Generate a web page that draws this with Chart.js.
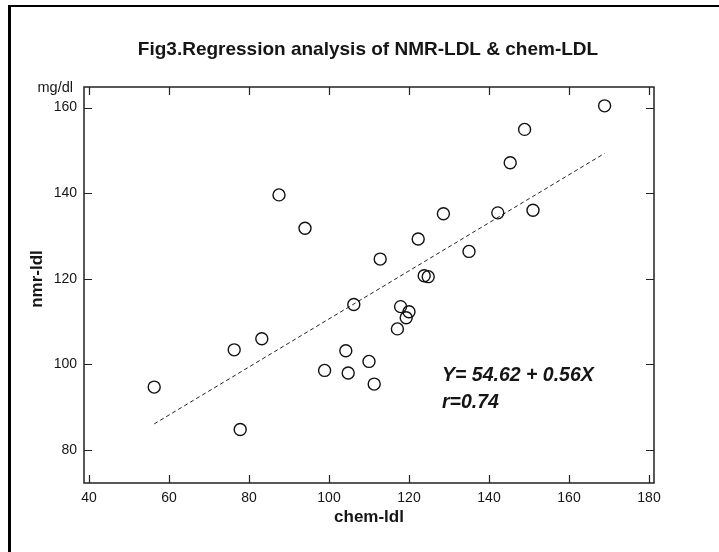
<!DOCTYPE html>
<html>
<head>
<meta charset="utf-8">
<script src="https://cdn.jsdelivr.net/npm/chart.js@4/dist/chart.umd.min.js"></script>
<style>
  html, body { margin: 0; padding: 0; background: #fff; }
  #wrap { position: relative; width: 719px; height: 552px; }
</style>
</head>
<body>
<div id="wrap"><canvas id="c" width="719" height="552"></canvas></div>
<script>
// ---- data ----
const chemLdl = [56.3, 76.3, 77.8, 83.2, 87.5, 94.0, 98.9, 104.2, 104.8, 106.2, 110.0, 111.3, 112.8, 117.1,
                 117.9, 119.3, 120.0, 122.3, 123.8, 124.8, 128.6, 135.0, 142.2, 145.3, 148.9, 151.0, 168.9];
const nmrLdl  = [94.7, 103.4, 84.8, 106.0, 139.6, 131.8, 98.6, 103.2, 98.0, 114.0, 100.7, 95.4, 124.6, 108.3,
                 113.5, 110.9, 112.3, 129.3, 120.7, 120.5, 135.2, 126.4, 135.4, 147.1, 154.9, 136.0, 160.4];
const fitX = [56.3, 168.9];
const fitY = [86.1, 149.3];
const xTicks = [40, 60, 80, 100, 120, 140, 160, 180];
const yTicks = [80, 100, 120, 140, 160];
const titleText = 'Fig3.Regression analysis of NMR-LDL & chem-LDL';
const xTitle = 'chem-ldl';
const yTitle = 'nmr-ldl';
const unitLabel = 'mg/dl';
const eqLines = ['Y= 54.62 + 0.56X', 'r=0.74'];

const FONT = '"Liberation Sans", Arial, sans-serif';
const INK = '#151515';

const framePlugin = {
  id: 'frame',
  beforeDraw(chart) {
    const ctx = chart.ctx;
    ctx.save();
    ctx.fillStyle = '#fff';
    ctx.fillRect(0, 0, chart.width, chart.height);
    ctx.fillStyle = '#000';
    ctx.fillRect(8, 6, 3, chart.height - 6);   // left frame line
    ctx.fillRect(8, 5, chart.width - 8, 2);     // top frame line
    ctx.restore();
  },
  afterDraw(chart) {
    const ctx = chart.ctx;
    const a = chart.chartArea;
    const xs = chart.scales.x, ys = chart.scales.y;
    ctx.save();
    ctx.strokeStyle = '#222';
    ctx.lineWidth = 1.5;
    ctx.strokeRect(a.left, a.top, a.right - a.left, a.bottom - a.top);
    ctx.lineWidth = 1.2;
    const tl = 8;
    ctx.beginPath();
    xTicks.forEach(v => {
      const p = Math.round(xs.getPixelForValue(v)) + 0.5;
      ctx.moveTo(p, a.bottom); ctx.lineTo(p, a.bottom - tl);
      ctx.moveTo(p, a.top); ctx.lineTo(p, a.top + tl);
    });
    yTicks.forEach(v => {
      const p = Math.round(ys.getPixelForValue(v)) + 0.5;
      ctx.moveTo(a.left, p); ctx.lineTo(a.left + tl, p);
      ctx.moveTo(a.right, p); ctx.lineTo(a.right - tl, p);
    });
    ctx.stroke();
    ctx.fillStyle = INK;
    // chart title (centred over the figure as in the reference)
    ctx.font = 'bold 19px ' + FONT;
    ctx.textAlign = 'center';
    ctx.textBaseline = 'middle';
    ctx.fillText(titleText, 368, 50);
    // unit label
    ctx.font = '14.5px ' + FONT;
    ctx.textAlign = 'right';
    ctx.textBaseline = 'middle';
    ctx.fillText(unitLabel, a.left - 11, a.top + 1);
    // y axis title
    ctx.save();
    ctx.translate(37, 279);
    ctx.rotate(-Math.PI / 2);
    ctx.font = 'bold 17px ' + FONT;
    ctx.textAlign = 'center';
    ctx.textBaseline = 'middle';
    ctx.fillText(yTitle, 0, 0);
    ctx.restore();
    // regression equation
    ctx.font = 'italic bold 19.5px ' + FONT;
    ctx.textAlign = 'left';
    ctx.textBaseline = 'alphabetic';
    ctx.fillText(eqLines[0], a.left + 358, 381);
    ctx.fillText(eqLines[1], a.left + 358, 408);
    ctx.restore();
  }
};

new Chart(document.getElementById('c'), {
  type: 'scatter',
  data: {
    datasets: [
      {
        label: 'data',
        data: chemLdl.map((x, i) => ({ x: x, y: nmrLdl[i] })),
        pointStyle: 'circle',
        pointRadius: 6,
        pointHoverRadius: 6,
        pointBorderWidth: 1.4,
        pointBorderColor: '#111',
        pointBackgroundColor: 'rgba(0,0,0,0)',
        showLine: false
      },
      {
        label: 'fit',
        data: fitX.map((x, i) => ({ x: x, y: fitY[i] })),
        showLine: true,
        borderColor: '#222',
        borderWidth: 1,
        borderDash: [4, 3],
        pointRadius: 0,
        fill: false
      }
    ]
  },
  options: {
    responsive: false,
    animation: false,
    devicePixelRatio: 1,
    layout: { padding: { left: 0, right: 65, top: 87, bottom: 0 } },
    plugins: {
      legend: { display: false },
      tooltip: { enabled: false },
      title: { display: false }
    },
    scales: {
      x: {
        type: 'linear',
        min: 38.75,
        max: 181.25,
        afterFit(s) { s.height = 69; },
        afterBuildTicks(s) { s.ticks = xTicks.map(v => ({ value: v })); },
        grid: { display: false, drawTicks: false },
        border: { display: false },
        ticks: {
          color: INK,
          padding: 7,
          maxRotation: 0,
          autoSkip: false,
          font: { family: FONT, size: 14 }
        },
        title: {
          display: true,
          text: xTitle,
          color: INK,
          font: { family: FONT, size: 17, weight: 'bold', lineHeight: 1.2 },
          padding: { top: 0, bottom: 24.8 }
        }
      },
      y: {
        type: 'linear',
        min: 72.3,
        max: 164.8,
        afterFit(s) { s.width = 84; },
        afterBuildTicks(s) { s.ticks = yTicks.map(v => ({ value: v })); },
        grid: { display: false, drawTicks: false },
        border: { display: false },
        ticks: {
          color: INK,
          padding: 7,
          autoSkip: false,
          font: { family: FONT, size: 14 }
        },
        title: { display: false }
      }
    }
  },
  plugins: [framePlugin]
});
</script>
</body>
</html>
